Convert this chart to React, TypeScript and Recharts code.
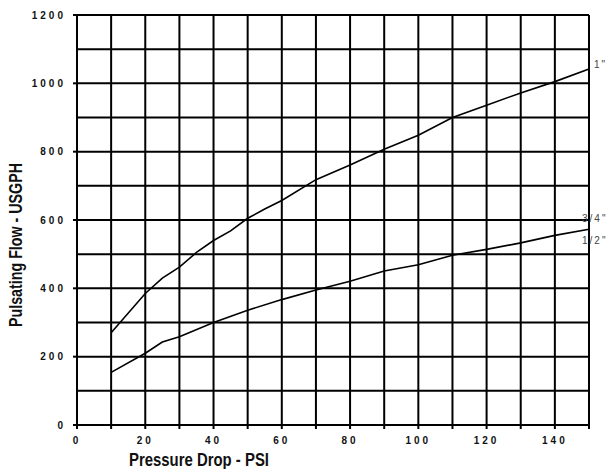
import React from "react";
import {
  LineChart, Line, XAxis, YAxis, CartesianGrid, Label, LabelList,
} from "recharts";

const PSI_ONE = [10, 20, 25, 30, 35, 40, 45, 50, 55, 60, 70, 80, 90, 100, 110, 120, 130, 140, 150];
const FLOW_ONE = [270, 385, 430, 462, 505, 540, 568, 605, 632, 657, 718, 761, 807, 848, 900, 936, 972, 1005, 1042];

const PSI_HALF = [10, 20, 25, 30, 40, 50, 60, 70, 80, 90, 100, 110, 120, 130, 140, 150];
const FLOW_HALF = [154, 210, 243, 258, 300, 336, 367, 395, 421, 451, 469, 497, 514, 533, 555, 573];

const X_TICKS = [0, 10, 20, 30, 40, 50, 60, 70, 80, 90, 100, 110, 120, 130, 140, 150];
const Y_TICKS = [0, 100, 200, 300, 400, 500, 600, 700, 800, 900, 1000, 1100, 1200];

const oneInch = PSI_ONE.map((x, i) => ({ psi: x, flow: FLOW_ONE[i] }));
const halfInch = PSI_HALF.map((x, i) => ({ psi: x, flow: FLOW_HALF[i] }));

const tickFont = { fontFamily: "Liberation Sans, Arial, sans-serif", fontSize: 10, fontWeight: "bold", letterSpacing: 3, fill: "#111" };
const titleFont = { fontFamily: "Liberation Sans, Arial, sans-serif", fontSize: 18, fontWeight: "bold", fill: "#111" };
const endFont = { fontFamily: "Liberation Sans, Arial, sans-serif", fontSize: 10, letterSpacing: 2, fill: "#444" };

function YTick(props: any) {
  const { x, y, payload } = props;
  const v = payload.value;
  if (v % 200 !== 0) return null;
  return (
    <g>
      <line x1={x} y1={y} x2={x + 4} y2={y} stroke="#000" strokeWidth={2} />
      <text x={x - 7} y={y} dy="0.35em" textAnchor="end" {...tickFont}>{v}</text>
    </g>
  );
}

function endLabel(names: string[], count: number) {
  return (props: any) => {
    const { x, y, index } = props;
    if (index !== count - 1) return null;
    if (names.length === 1) {
      return <text x={x + 5} y={y - 1} {...endFont}>{names[0]}</text>;
    }
    return (
      <g>
        <text x={x - 7} y={y - 7} {...endFont}>{names[0]}</text>
        <text x={x - 7} y={y + 15} {...endFont}>{names[1]}</text>
      </g>
    );
  };
}

export default function App() {
  return (
    <div style={{ position: "absolute", left: 0, top: 0, background: "#fff" }}>
      <LineChart width={608} height={469} margin={{ top: 15, right: 19, left: 0, bottom: 0 }}>
        <CartesianGrid stroke="#000" strokeWidth={2} />
        <XAxis
          type="number"
          dataKey="psi"
          domain={[0, 150]}
          ticks={X_TICKS}
          interval={0}
          height={44}
          tickSize={4}
          tickMargin={8}
          stroke="#000"
          strokeWidth={2}
          tick={tickFont}
          tickFormatter={(v: number) => (v % 20 === 0 && v !== 150 ? String(v) : "")}
          allowDuplicatedCategory={false}
        >
          <Label
            content={() => (
              <text x={129} y={466} textLength={140} lengthAdjust="spacingAndGlyphs" {...titleFont}>
                Pressure Drop - PSI
              </text>
            )}
          />
        </XAxis>
        <YAxis
          type="number"
          domain={[0, 1200]}
          ticks={Y_TICKS}
          interval={0}
          width={77}
          tickSize={4}
          tickMargin={0}
          tickLine={false}
          stroke="#000"
          strokeWidth={2}
          tick={<YTick />}
        >
          <Label
            content={() => (
              <text
                x={22}
                y={327}
                transform="rotate(-90 22 327)"
                textLength={164}
                lengthAdjust="spacingAndGlyphs"
                {...titleFont}
              >
                Pulsating Flow - USGPH
              </text>
            )}
          />
        </YAxis>
        <Line data={oneInch} dataKey="flow" type="linear" stroke="#000" strokeWidth={1.6} dot={false} isAnimationActive={false}>
          <LabelList dataKey="flow" content={endLabel(['1"'], oneInch.length)} />
        </Line>
        <Line data={halfInch} dataKey="flow" type="linear" stroke="#000" strokeWidth={1.6} dot={false} isAnimationActive={false}>
          <LabelList dataKey="flow" content={endLabel(['3/4"', '1/2"'], halfInch.length)} />
        </Line>
      </LineChart>
    </div>
  );
}
